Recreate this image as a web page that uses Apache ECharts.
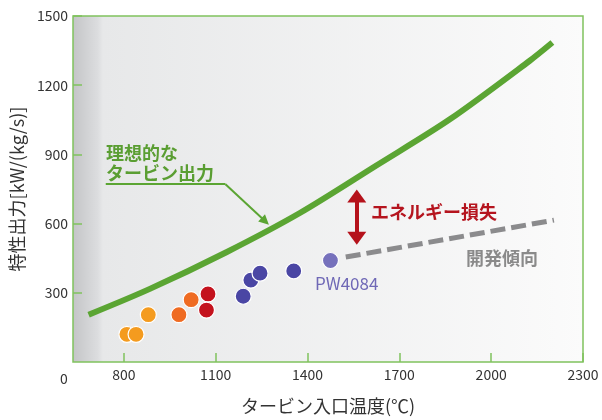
<!DOCTYPE html>
<html>
<head>
<meta charset="utf-8">
<script src="https://cdn.jsdelivr.net/npm/echarts@6/dist/echarts.min.js"></script>
<style>
	html,body{margin:0;padding:0;background:#fff;}
	#chart{width:602px;height:420px;}
</style>
</head>
<body>
<div id="chart"></div>
<script>
// 軸の目盛
var xTicks = [800, 1100, 1400, 1700, 2000, 2300];
var yTicks = [300, 600, 900, 1200, 1500];

// 理想的なタービン出力
var idealTemp = [685, 885, 1135, 1375, 1625, 1865, 2125, 2200];
var idealPower = [205, 317, 476, 646, 852, 1052, 1305, 1385];

// 開発傾向
var trendTemp = [1525, 2205];
var trendPower = [455, 615];

// エンジン実績 (group: 0..4)
var engineTemp = [810, 840, 880, 980, 1020, 1075, 1070, 1190, 1215, 1245, 1355, 1475];
var enginePower = [120, 120, 205, 205, 270, 295, 225, 285, 355, 385, 395, 440];
var engineGroup = [0, 0, 0, 1, 1, 2, 2, 3, 3, 3, 3, 4];

var groupColor = ['#f49b1f', '#ef6b22', '#c4121d', '#4a46a4', '#7671bc'];
var green = '#5ba533';
var axisGreen = '#80c25e';
var lossRed = '#b5121b';
var font = '"Noto Sans CJK JP", "Noto Sans", sans-serif';
// 矢じり (上向き, 横長)
var headPath = 'path://M9.5,0L19,13L0,13Z';

function pairs(xs, ys) {
	var out = [];
	for (var i = 0; i < xs.length; i++) out.push([xs[i], ys[i]]);
	return out;
}

var chart = echarts.init(document.getElementById('chart'));

// 点をグループごとに
var scatterSeries = [];
for (var g = 0; g < groupColor.length; g++) {
	var pts = [];
	for (var i = 0; i < engineTemp.length; i++) {
		if (engineGroup[i] === g) pts.push([engineTemp[i], enginePower[i]]);
	}
	scatterSeries.push({
		type: 'scatter',
		data: pts,
		symbolSize: 16,
		z: 5,
		itemStyle: {color: groupColor[g], borderColor: '#fff', borderWidth: 1.2, opacity: 1}
	});
}

var option = {
	animation: false,
	grid: {
		left: 73, right: 19, top: 16, bottom: 54,
		show: true,
		borderColor: axisGreen,
		borderWidth: 1.5,
		backgroundColor: {
			type: 'linear', x: 0, y: 0, x2: 1, y2: 0,
			colorStops: [
				{offset: 0, color: '#c3c4c6'},
				{offset: 0.05, color: '#dcdddf'},
				{offset: 0.06, color: '#e7e8e9'},
				{offset: 1, color: '#fbfbfb'}
			]
		}
	},
	xAxis: {
		type: 'value',
		min: 634,
		max: 2300,
		name: 'タービン入口温度(℃)',
		nameLocation: 'middle',
		nameGap: 35,
		nameTextStyle: {fontFamily: font, fontSize: 18, color: '#333'},
		axisLine: {show: false},
		axisTick: {show: true, inside: true, length: 9, customValues: xTicks, lineStyle: {color: axisGreen, width: 1.5}},
		axisLabel: {customValues: xTicks, margin: 6, fontFamily: font, fontSize: 14, color: '#333',
			formatter: function (v) { return String(v); }},
		splitLine: {show: false}
	},
	yAxis: {
		type: 'value',
		min: 0,
		max: 1500,
		interval: 300,
		name: '特性出力[kW/(kg/s)]',
		nameLocation: 'middle',
		nameGap: 44,
		nameTextStyle: {fontFamily: font, fontSize: 18, color: '#333'},
		axisLine: {show: false},
		axisTick: {show: true, inside: true, length: 9, customValues: yTicks, lineStyle: {color: axisGreen, width: 1.5}},
		axisLabel: {customValues: yTicks, margin: 5, fontFamily: font, fontSize: 14, color: '#333',
			formatter: function (v) { return String(v); }},
		splitLine: {show: false}
	},
	series: [
		{
			type: 'line',
			data: pairs(idealTemp, idealPower),
			smooth: 0.3,
			symbol: 'none',
			z: 3,
			lineStyle: {color: green, width: 6, cap: 'butt'},
			// 引出線
			markLine: {
				silent: true,
				label: {show: false},
				symbol: ['none', 'triangle'],
				symbolSize: 10,
				lineStyle: {color: green, width: 2, type: 'solid'},
				itemStyle: {color: green},
				data: [
					[{coord: [741, 771], symbol: 'none'}, {coord: [1132, 771], symbol: 'none'}],
					[{coord: [1132, 771], symbol: 'none'}, {coord: [1262, 610], symbol: 'triangle'}]
				]
			}
		},
		{
			type: 'line',
			data: pairs(trendTemp, trendPower),
			symbol: 'none',
			z: 3,
			lineStyle: {color: '#8b8b8d', width: 5, type: [15, 6], cap: 'butt'},
			// エネルギー損失の矢印
			markLine: {
				silent: true,
				label: {show: false},
				symbol: [headPath, headPath],
				symbolSize: 19,
				symbolKeepAspect: true,
				lineStyle: {color: lossRed, width: 4, type: 'solid'},
				itemStyle: {color: lossRed},
				data: [
					[{coord: [1561, 536], symbol: headPath}, {coord: [1561, 720], symbol: headPath}]
				]
			}
		}
	].concat(scatterSeries),
	graphic: [
		{type: 'text', x: 64, y: 379, style: {text: '0', font: '14px ' + font, fill: '#333', align: 'center', verticalAlign: 'middle'}},
		{type: 'text', x: 106, y: 153, style: {text: '理想的な', font: 'bold 18px ' + font, fill: '#5a9e32', verticalAlign: 'middle'}},
		{type: 'text', x: 106, y: 173, style: {text: 'タービン出力', font: 'bold 18px ' + font, fill: '#5a9e32', verticalAlign: 'middle'}},
		{type: 'text', x: 371, y: 212, style: {text: 'エネルギー損失', font: 'bold 18px ' + font, fill: '#b5141e', verticalAlign: 'middle'}},
		{type: 'text', x: 466, y: 258, style: {text: '開発傾向', font: 'bold 18px ' + font, fill: '#8a8a8a', verticalAlign: 'middle'}},
		{type: 'text', x: 315, y: 284, style: {text: 'PW4084', font: '17px ' + font, fill: '#6f68b6', verticalAlign: 'middle'}}
	]
};

chart.setOption(option);
</script>
</body>
</html>
